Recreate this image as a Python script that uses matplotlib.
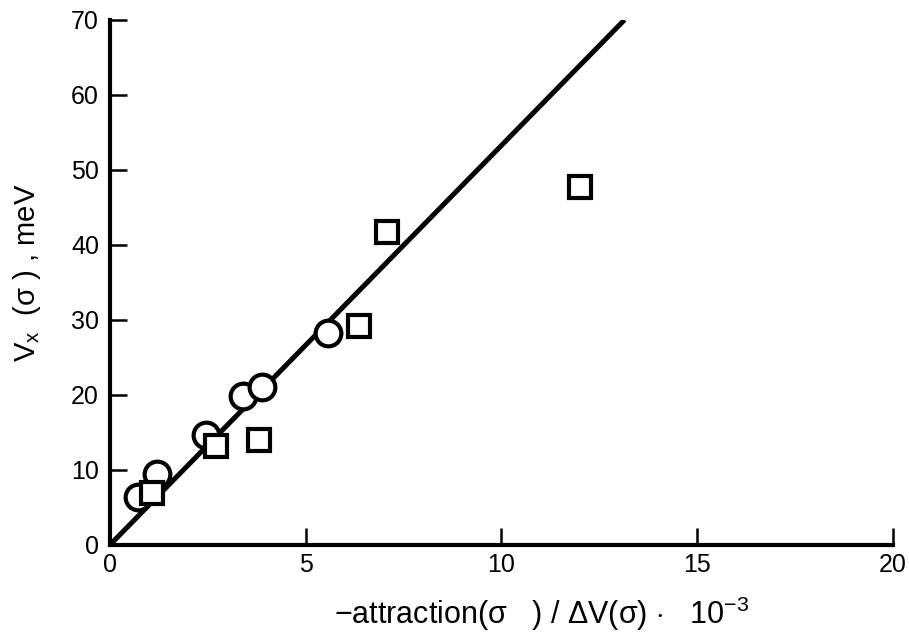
import matplotlib
matplotlib.use('Agg')
import matplotlib.pyplot as plt
import numpy as np

plt.rcParams['font.family'] = ['Liberation Sans', 'DejaVu Sans']
plt.rcParams['mathtext.fontset'] = 'custom'
plt.rcParams['mathtext.rm'] = 'Liberation Sans'
plt.rcParams['mathtext.it'] = 'Liberation Sans'

# Data
circ_x = [0.72, 1.21, 2.45, 3.41, 3.89, 5.58]
circ_y = [6.4, 9.5, 14.7, 19.9, 21.1, 28.2]
sq_x = [1.08, 2.72, 3.81, 6.36, 7.08, 12.0]
sq_y = [6.9, 13.2, 14.0, 29.2, 41.7, 47.7]
fit_x = [0.0, 13.15]
fit_y = [0.0, 70.0]

fig = plt.figure(figsize=(9.09, 6.38), dpi=100)
ax = fig.add_axes([0.121, 0.146, 0.861, 0.823])

ax.plot(fit_x, fit_y, color='black', lw=3.6, solid_capstyle='butt', zorder=2)
ax.plot(circ_x, circ_y, 'o', ms=18.5, mfc='white', mec='black', mew=3, zorder=3)
ax.plot(sq_x, sq_y, 's', ms=15.5, mfc='white', mec='black', mew=3, zorder=3)

ax.set_xlim(0, 20)
ax.set_ylim(0, 70)
ax.set_xticks([0, 5, 10, 15, 20])
ax.set_yticks(np.arange(0, 71, 10))
ax.spines['top'].set_visible(False)
ax.spines['right'].set_visible(False)
ax.spines['left'].set_linewidth(3)
ax.spines['bottom'].set_linewidth(3)
ax.tick_params(direction='in', length=12, width=1.8, labelsize=18)
ax.tick_params(axis='y', pad=8)
ax.tick_params(axis='x', pad=6)

fig.text(0.596, 0.008, r'$-$attraction($\sigma$   ) / $\Delta$V($\sigma$) $\cdot$   10$^{-3}$',
         ha='center', va='bottom', fontsize=22)
fig.text(0.03, 0.572, r'V$_{\rm x}$  ($\sigma$ ) , meV', rotation=90,
         ha='center', va='center', fontsize=21)

plt.savefig('out.png', dpi=100)
